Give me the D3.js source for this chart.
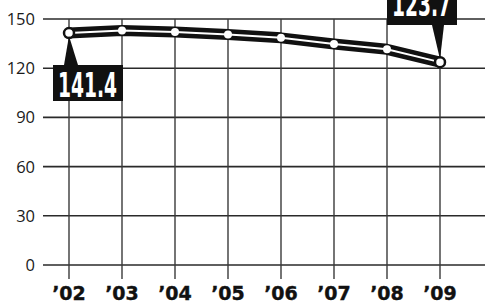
<!DOCTYPE html>
<html>
<head>
<meta charset="utf-8">
<script src="https://cdn.jsdelivr.net/npm/d3@7"></script>
<style>
  body { margin: 0; background: #fff; }
  svg { display: block; }
</style>
</head>
<body>
<script>
//chart data
var years = ["'02", "'03", "'04", "'05", "'06", "'07", "'08", "'09"];
var values = [141.4, 143.0, 142.0, 140.5, 138.5, 134.8, 131.5, 123.7];
var yTicks = [0, 30, 60, 90, 120, 150];

var width = 485,
    height = 303;

var svg = d3.select("body")
    .append("svg")
    .attr("width", width)
    .attr("height", height);

var x = d3.scalePoint()
    .domain(years)
    .range([69, 440]);

var y = d3.scaleLinear()
    .domain([0, 150])
    .range([265, 19]);

//horizontal grid lines
svg.selectAll(".hgrid")
    .data(yTicks)
    .enter()
    .append("line")
    .attr("x1", 43)
    .attr("x2", width)
    .attr("y1", function(d){ return y(d); })
    .attr("y2", function(d){ return y(d); })
    .attr("stroke", "#2a2a2a")
    .attr("stroke-width", 1.6);

//vertical grid lines
svg.selectAll(".vgrid")
    .data(years)
    .enter()
    .append("line")
    .attr("x1", function(d){ return x(d); })
    .attr("x2", function(d){ return x(d); })
    .attr("y1", y(150))
    .attr("y2", 279)
    .attr("stroke", "#3a3a3a")
    .attr("stroke-width", 1.4);

//y labels
svg.selectAll(".ylab")
    .data(yTicks)
    .enter()
    .append("text")
    .attr("x", 35)
    .attr("y", function(d){ return y(d) + 6; })
    .attr("text-anchor", "end")
    .attr("font-family", "'Open Sans', sans-serif")
    .attr("font-size", 16.5)
    .attr("fill", "#1a1a1a")
    .text(function(d){ return d; });

//x labels
svg.selectAll(".xlab")
    .data(years)
    .enter()
    .append("text")
    .attr("x", function(d){ return x(d); })
    .attr("y", 300)
    .attr("text-anchor", "middle")
    .attr("font-family", "'DejaVu Sans', sans-serif")
    .attr("font-weight", "bold")
    .attr("font-size", 19)
    .attr("fill", "#111")
    .attr("stroke", "#111")
    .attr("stroke-width", 0.4)
    .text(function(d){ return d.replace("'", "\u2019"); });

var line = d3.line()
    .x(function(d, i){ return x(years[i]); })
    .y(function(d){ return y(d); });

//thick black band
svg.append("path")
    .datum(values)
    .attr("d", line)
    .attr("fill", "none")
    .attr("stroke", "#111")
    .attr("stroke-width", 11)
    .attr("stroke-linejoin", "round");

//thin white core
svg.append("path")
    .datum(values)
    .attr("d", line)
    .attr("fill", "none")
    .attr("stroke", "#fff")
    .attr("stroke-width", 2);

//points
svg.selectAll(".pt")
    .data(values)
    .enter()
    .append("circle")
    .attr("cx", function(d, i){ return x(years[i]); })
    .attr("cy", function(d){ return y(d); })
    .attr("r", function(d, i){ return (i === 0 || i === values.length - 1) ? 5 : 4; })
    .attr("fill", "#fff")
    .attr("stroke", "#111")
    .attr("stroke-width", function(d, i){ return (i === 0 || i === values.length - 1) ? 2.5 : 0; });

//callout labels
var callouts = [
    {i: 0, box: [53, 65, 70, 36], base: [64, 78], baseY: 65, textY: 97},
    {i: values.length - 1, box: [387, -12, 70, 37], base: [432, 444], baseY: 25, textY: 16}
];

callouts.forEach(function(c){
    var px = x(years[c.i]),
        py = y(values[c.i]);
    svg.append("path")
        .attr("d", "M" + c.base[0] + "," + c.baseY + "L" + c.base[1] + "," + c.baseY + "L" + px + "," + (py + (c.i === 0 ? 3 : -3)) + "Z")
        .attr("fill", "#111");
    svg.append("rect")
        .attr("x", c.box[0])
        .attr("y", c.box[1])
        .attr("width", c.box[2])
        .attr("height", c.box[3])
        .attr("fill", "#111");
    svg.append("text")
        .attr("x", c.box[0] + 5)
        .attr("y", c.textY)
        .attr("textLength", 59)
        .attr("lengthAdjust", "spacingAndGlyphs")
        .attr("font-family", "'Liberation Sans Narrow', 'DejaVu Sans Condensed', sans-serif")
        .attr("font-weight", "bold")
        .attr("font-size", 33)
        .attr("fill", "#fff")
        .text(values[c.i]);
});
</script>
</body>
</html>
